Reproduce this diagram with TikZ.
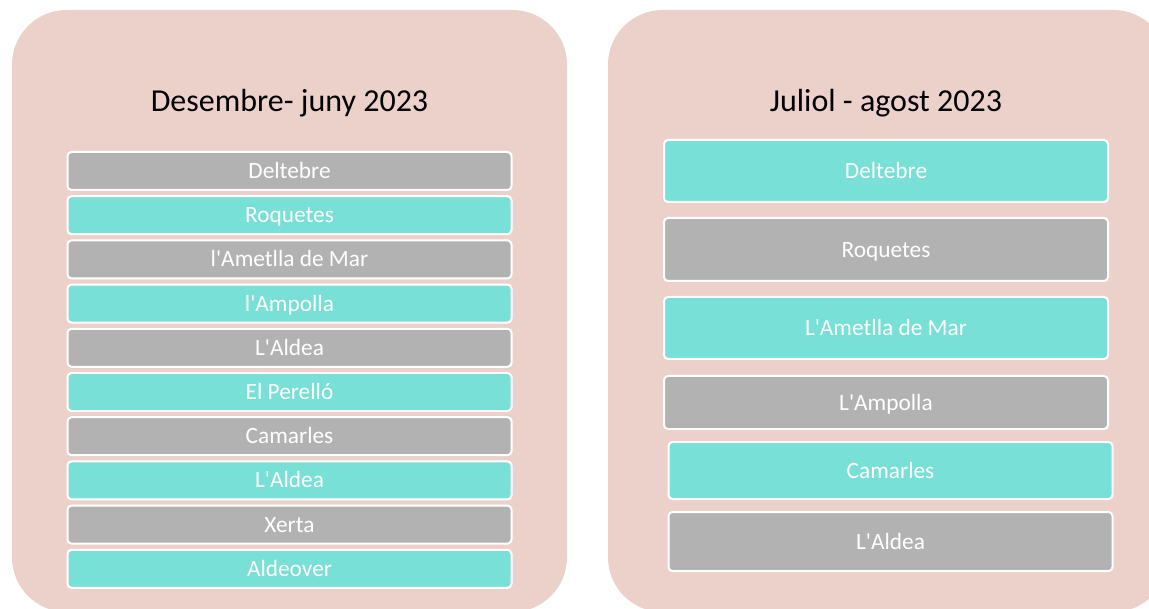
\documentclass[tikz,border=0pt]{standalone}
\usepackage{fontspec}
\setmainfont{Carlito}
\usetikzlibrary{positioning}
\definecolor{panelpink}{HTML}{EBD1CA}
\definecolor{townteal}{HTML}{78E0D6}
\definecolor{towngrey}{HTML}{B2B2B2}
\newcommand{\ap}{\textquotesingle}
\tikzset{
    period/.style = {
        fill=panelpink,
        shape=rectangle,
        rounded corners=41pt,
        minimum width=555*0.75pt,
        minimum height=602*0.75pt,
        inner sep=0pt
    },
    heading/.style = {
        font=\fontsize{24}{28}\selectfont,
        text height=15.5pt,
        text depth=0pt,
        inner sep=0pt
    },
    town/.style = {
        draw=white,
        shape=rectangle,
        line width=1.5pt,
        rounded corners=3pt,
        text=white,
        font=\fontsize{17.5}{20}\selectfont,
        text height=11.3pt,
        text depth=0pt,
        inner sep=0pt,
        minimum width=444*0.75pt,
        minimum height=38*0.75pt
    },
    teal/.style = {town, fill=townteal},
    grey/.style = {town, fill=towngrey},
}

\begin{document}
\begin{tikzpicture}[x=0.75pt, y=-0.75pt]
            \useasboundingbox (0,0) rectangle (1149,609);

            % the two periods
            \node[period] (winter) at (289.5,311) {};
            \node[period, minimum width=560*0.75pt] (summer) at (888,311) {};

            \node[heading] (wintertitle) at (289.5,101) {Desembre- juny 2023};
            \node[heading] (summertitle) at (886,101) {Juliol - agost 2023};

            % desembre - juny
            \node[grey] (w1) at (289.5,171) {Deltebre};
            \node[teal] (w2) at (289.5,215.2) {Roquetes};
            \node[grey] (w3) at (289.5,259.4) {l\ap Ametlla de Mar};
            \node[teal] (w4) at (289.5,303.6) {l\ap Ampolla};
            \node[grey] (w5) at (289.5,347.8) {L\ap Aldea};
            \node[teal] (w6) at (289.5,392) {El Perelló};
            \node[grey] (w7) at (289.5,436.2) {Camarles};
            \node[teal] (w8) at (289.5,480.4) {L\ap Aldea};
            \node[grey] (w9) at (289.5,524.6) {Xerta};
            \node[teal] (w10) at (289.5,568.8) {Aldeover};

            % juliol - agost
            \node[teal, minimum height=62*0.75pt] (s1) at (886,171) {Deltebre};
            \node[grey, minimum height=63*0.75pt] (s2) at (886,249.5) {Roquetes};
            \node[teal, minimum height=62*0.75pt] (s3) at (886,328) {L\ap Ametlla de Mar};
            \node[grey, minimum height=53*0.75pt] (s4) at (886,402.5) {L\ap Ampolla};
            \node[teal, minimum height=57*0.75pt] (s5) at (890.5,470.5) {Camarles};
            \node[grey, minimum height=59*0.75pt] (s6) at (890.5,541.5) {L\ap Aldea};

        \end{tikzpicture}
\end{document}
